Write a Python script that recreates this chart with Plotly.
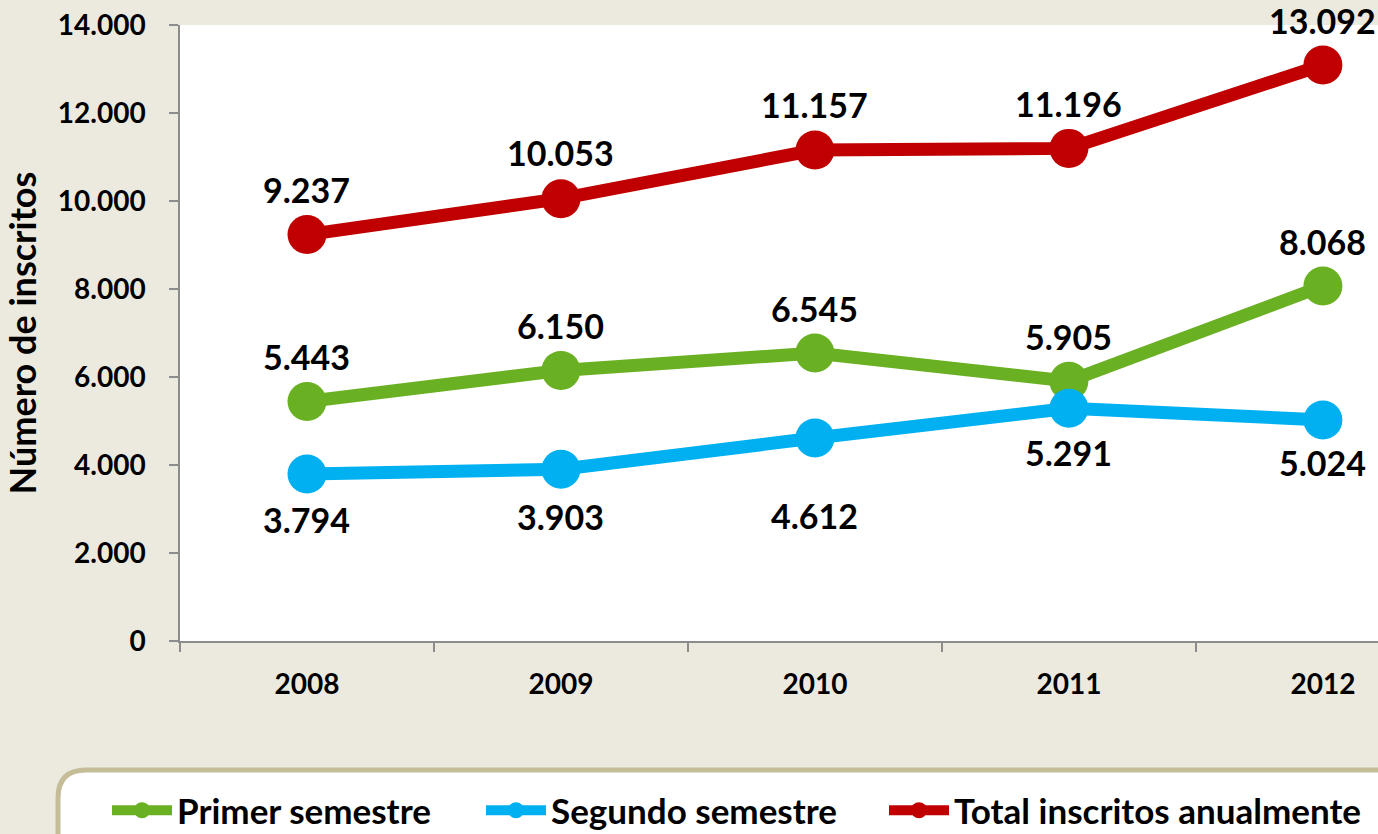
import plotly.graph_objects as go

years = ["2008", "2009", "2010", "2011", "2012"]
primer = [5443, 6150, 6545, 5905, 8068]
segundo = [3794, 3903, 4612, 5291, 5024]
total = [9237, 10053, 11157, 11196, 13092]

names = ["Primer semestre", "Segundo semestre", "Total inscritos anualmente"]
colors = ["#6AB023", "#00B0F0", "#C00000"]
label_shift = [
    [45, 45, 45, 45, 45],
    [-45, -47, -77, -44, -43],
    [45, 46, 46, 45, 44],
]
y_ticks = [0, 2000, 4000, 6000, 8000, 10000, 12000, 14000]

FONT = "Lato"
W, H = 1378, 834
L, R, T, B = 180, 0, 25, 193


def px_x(p):
    return (p - L) / (W - L - R)


def px_y(p):
    return (H - B - p) / (H - B - T)


# posición de cada leyenda (inicio del texto, px)
legend_ids = ["legend", "legend2", "legend3"]
legend_text_x = [178, 552, 955]

fig = go.Figure()
for name, vals, col, lg in zip(names, [primer, segundo, total], colors, legend_ids):
    fig.add_trace(
        go.Scatter(
            x=years,
            y=vals,
            mode="lines+markers",
            name=name,
            legend=lg,
            line={"color": col, "width": 13},
            marker={"color": col, "size": 39},
            cliponaxis=False,
        )
    )

for vals, shifts in zip([primer, segundo, total], label_shift):
    for i, (v, s) in enumerate(zip(vals, shifts)):
        fig.add_annotation(
            x=i, y=v, xref="x", yref="y", yshift=s, showarrow=False,
            text=f"{v:,}".replace(",", "."),
            font={"family": FONT, "size": 34, "color": "black", "weight": 700},
        )

# caja redondeada de la leyenda
r = 28
x0, y0, x1, y1 = 58, 770, 1420, 880
path = (
    f"M{px_x(x0)},{px_y(y1)} L{px_x(x0)},{px_y(y0 + r)} "
    f"Q{px_x(x0)},{px_y(y0)} {px_x(x0 + r)},{px_y(y0)} "
    f"L{px_x(x1)},{px_y(y0)} L{px_x(x1)},{px_y(y1)} Z"
)
fig.add_shape(type="path", xref="paper", yref="paper", path=path,
              fillcolor="white", line={"color": "#C4BD97", "width": 5}, layer="below")

legend_style = {
    "orientation": "h", "y": px_y(781),
    "xanchor": "left", "yanchor": "top",
    "bgcolor": "rgba(0,0,0,0)",
    "font": {"family": FONT, "size": 35, "weight": 700, "color": "black"},
    "itemwidth": 60,
}
legends = {lg: dict(legend_style, x=px_x(tx - 71)) for lg, tx in zip(legend_ids, legend_text_x)}

fig.update_layout(
    width=W, height=H,
    margin={"l": L, "r": R, "t": T, "b": B, "autoexpand": False},
    paper_bgcolor="#ECEADF",
    plot_bgcolor="white",
    separators=",.",
    font={"family": FONT, "size": 28, "color": "black", "weight": 700},
    showlegend=True,
    **legends,
    xaxis={
        "type": "category", "range": [-0.5, 4.217],
        "showgrid": False, "showline": True, "linecolor": "#8C8C8C", "linewidth": 1.5,
        "ticks": "outside", "ticklen": 9, "tickcolor": "#8C8C8C", "tickwidth": 1.5,
        "tickson": "boundaries", "ticklabelstandoff": 18,
        "tickfont": {"size": 28},
    },
    yaxis={
        "range": [0, 14000], "tickvals": y_ticks, "tickformat": ",d",
        "showgrid": False, "zeroline": False, "showline": True,
        "linecolor": "#8C8C8C", "linewidth": 1.5,
        "ticks": "outside", "ticklen": 9, "tickcolor": "#8C8C8C", "tickwidth": 1.5,
        "ticklabelstandoff": 18,
        "tickfont": {"size": 28},
        "title": {"text": "Número de inscritos", "font": {"size": 36}, "standoff": 12},
    },
)

fig.write_html("out.html", config={"displayModeBar": False},
               post_script="document.body.style.margin='0';")
